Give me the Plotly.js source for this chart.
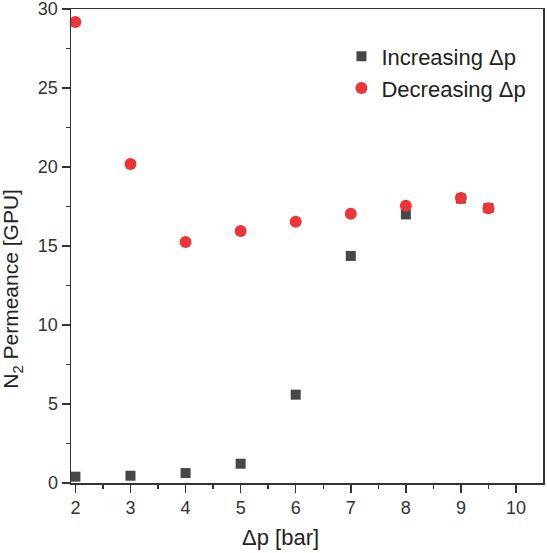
<!DOCTYPE html>
<html>
<head>
<meta charset="utf-8">
<script src="https://cdn.plot.ly/plotly-3.0.1.min.js"></script>
<style>html,body{margin:0;padding:0;background:#fff;}#chart{width:547px;height:553px;}</style>
</head>
<body>
<div id="chart"></div>
<script>
// Data
const pressureIncreasing = [2, 3, 4, 5, 6, 7, 8, 9, 9.5];
const permeanceIncreasing = [0.4, 0.46, 0.63, 1.22, 5.59, 14.37, 17.0, 18.0, 17.4];
const pressureDecreasing = [2, 3, 4, 5, 6, 7, 8, 9, 9.5];
const permeanceDecreasing = [29.18, 20.19, 15.25, 15.95, 16.54, 17.04, 17.55, 18.04, 17.39];
const seriesNames = ['Increasing \u0394p', 'Decreasing \u0394p'];
const xTicks = [2, 3, 4, 5, 6, 7, 8, 9, 10];
const yTicks = [0, 5, 10, 15, 20, 25, 30];
const xTitle = '\u0394p [bar]';
const yTitle = 'N<sub>2</sub> Permeance [GPU]';

const FONT = 'Liberation Sans, Arial, sans-serif';

const traces = [
  {
    x: pressureIncreasing, y: permeanceIncreasing, name: seriesNames[0],
    type: 'scatter', mode: 'markers', legendgroup: 'a',
    marker: {symbol: 'square', size: 10, color: '#474747'}
  },
  {
    x: pressureDecreasing, y: permeanceDecreasing, name: seriesNames[1],
    type: 'scatter', mode: 'markers', legendgroup: 'b',
    marker: {symbol: 'circle', size: 12, color: '#ee3535'}
  }
];

const axisCommon = {
  showgrid: false, zeroline: false,
  showline: true, linecolor: '#333', linewidth: 1.5,
  mirror: true,
  ticks: 'outside', ticklen: 8, tickwidth: 1.5, tickcolor: '#333',
  ticklabeloverflow: 'allow',
  tickfont: {family: FONT, size: 18, color: '#333'}
};

const layout = {
  width: 547, height: 553,
  margin: {l: 71, r: 4, t: 9, b: 70},
  paper_bgcolor: '#fff', plot_bgcolor: '#fff',
  font: {family: FONT, color: '#222'},
  showlegend: true,
  legend: {
    x: 0.573, y: 0.944, xanchor: 'left', yanchor: 'top',
    font: {family: FONT, size: 22, color: '#222'},
    bgcolor: 'rgba(0,0,0,0)', tracegroupgap: 0
  },
  xaxis: Object.assign({}, axisCommon, {
    range: [1.92, 10.49],
    tickvals: xTicks, ticktext: xTicks.map(String),
    minor: {dtick: 0.5, tick0: 2, ticks: 'outside', ticklen: 4, tickwidth: 1.5, tickcolor: '#333'}
  }),
  yaxis: Object.assign({}, axisCommon, {
    range: [0, 30],
    tickvals: yTicks, ticktext: yTicks.map(String),
    minor: {dtick: 2.5, tick0: 0, ticks: 'outside', ticklen: 4, tickwidth: 1.5, tickcolor: '#333'}
  }),
  annotations: [
    {
      text: yTitle, textangle: -90, showarrow: false,
      xref: 'paper', yref: 'paper', x: -0.125, y: 0.41,
      xanchor: 'center', yanchor: 'middle',
      font: {family: FONT, size: 21, color: '#222'}
    },
    {
      text: xTitle, showarrow: false,
      xref: 'paper', yref: 'paper', x: 0.443, y: -0.114,
      xanchor: 'center', yanchor: 'middle',
      font: {family: FONT, size: 22, color: '#222'}
    }
  ]
};

Plotly.newPlot('chart', traces, layout, {displayModeBar: false, staticPlot: true});
</script>
</body>
</html>
